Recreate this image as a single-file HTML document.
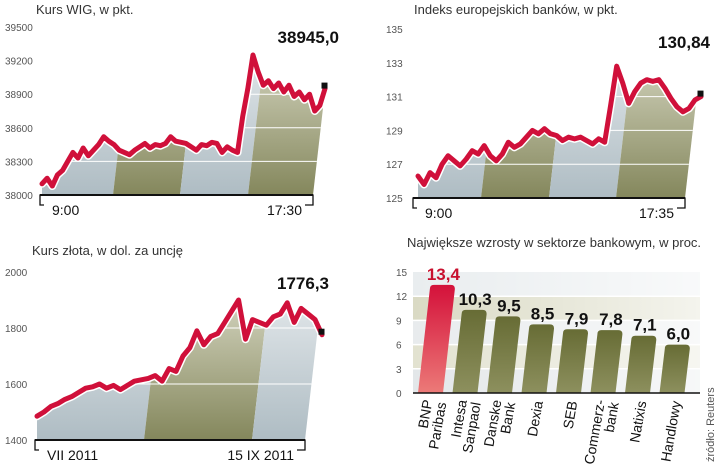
<!DOCTYPE html>
<html><head><meta charset="utf-8">
<style>
html,body{margin:0;padding:0;background:#fff;}
svg{display:block;font-family:"Liberation Sans",sans-serif;}
.ttl{font-size:13px;fill:#333;}
.yl{font-size:10px;fill:#555;}
.xl{font-size:14px;fill:#111;}
.val{font-family:"Liberation Sans Narrow","Liberation Sans",sans-serif;font-weight:bold;font-size:17px;fill:#111;}
</style></head><body>
<svg id="svg" width="720" height="468" viewBox="0 0 720 468" xmlns="http://www.w3.org/2000/svg">
<defs>
<linearGradient id="gBlue" x1="0" y1="0" x2="0" y2="1"><stop offset="0" stop-color="#eef1f3"/><stop offset="1" stop-color="#aebcc3"/></linearGradient>
<linearGradient id="gOlive" x1="0" y1="0" x2="0" y2="1"><stop offset="0" stop-color="#e6e6d6"/><stop offset="1" stop-color="#84875c"/></linearGradient>
<linearGradient id="gRed" x1="0" y1="0" x2="0" y2="1"><stop offset="0" stop-color="#d4113a"/><stop offset="1" stop-color="#ec7a78"/></linearGradient>
<linearGradient id="gGreen" x1="0" y1="0" x2="0" y2="1"><stop offset="0" stop-color="#676c35"/><stop offset="1" stop-color="#8d905e"/></linearGradient>
<linearGradient id="fadeR" x1="0" y1="0" x2="1" y2="0"><stop offset="0" stop-color="#fff" stop-opacity="0"/><stop offset="1" stop-color="#fff" stop-opacity="0.7"/></linearGradient>
</defs>
</svg>
<script>
// ---- data ----
const wigValues = [38100,38150,38080,38180,38220,38300,38380,38330,38420,38350,38400,38450,38520,38480,38450,38400,38380,38360,38400,38430,38460,38420,38450,38440,38460,38520,38480,38470,38460,38430,38400,38450,38440,38470,38460,38380,38430,38400,38380,38700,38950,39250,39100,38980,39020,38950,39000,38920,38980,38880,38920,38850,38900,38750,38800,38950];
const wigTicks = [38000,38300,38600,38900,39200,39500];
const wigXLabels = ["9:00","17:30"];
const bankValues = [126.3,125.8,126.5,126.2,127.0,127.5,127.2,126.9,127.3,127.8,127.6,128.1,127.5,127.2,127.6,128.3,128.0,128.2,128.6,129.0,128.8,129.1,128.8,128.7,128.4,128.6,128.5,128.6,128.4,128.2,128.5,128.3,130.5,132.8,131.8,130.6,131.3,131.8,132.0,131.9,132.0,131.5,130.9,130.4,130.1,130.3,130.8,131.0];
const bankTicks = [125,127,129,131,133,135];
const bankXLabels = ["9:00","17:35"];
const goldValues = [1485,1500,1520,1530,1545,1555,1570,1585,1590,1600,1585,1595,1580,1595,1610,1615,1620,1630,1610,1655,1645,1700,1730,1790,1740,1770,1780,1820,1860,1900,1760,1830,1820,1810,1840,1850,1890,1820,1870,1850,1830,1776];
const goldTicks = [1400,1600,1800,2000];
const goldXLabels = ["VII 2011","15 IX 2011"];
const barCategories = [["BNP","Paribas"],["Intesa","Sanpaol"],["Danske","Bank"],["Dexia"],["SEB"],["Commerz-","bank"],["Natixis"],["Handlowy"]];
const barValues = [13.4,10.3,9.5,8.5,7.9,7.8,7.1,6.0];
const barLabels = ["13,4","10,3","9,5","8,5","7,9","7,8","7,1","6,0"];
const barTicks = [0,3,6,9,12,15];

const NS="http://www.w3.org/2000/svg";
const svg=document.getElementById('svg');
function mk(tag,attrs,parent){const e=document.createElementNS(NS,tag);for(const k in attrs)e.setAttribute(k,attrs[k]);(parent||svg).appendChild(e);return e;}

function lineChart(o){
  const g=mk('g',{});
  
  
  const y=v=>o.yBase-(v-o.ticks[0])/(o.ticks[o.ticks.length-1]-o.ticks[0])*(o.yBase-o.yTop);
  const n=o.values.length;
  const x=i=>o.lx0+i*(o.lx1-o.lx0)/(n-1);
  const t=mk('text',{x:o.titleX,y:o.titleY,class:'ttl'},g);t.textContent=o.title;
  
  o.ticks.forEach(v=>{const e=mk('text',{x:o.ylX,y:y(v)+4,class:'yl'},g);e.textContent=v;
    });
  let pts=o.values.map((v,i)=>x(i)+','+y(v)).join(' ');
  const cid='clip'+o.name;
  const cp=mk('clipPath',{id:cid},g);
  mk('polygon',{points:o.lx0+','+o.yBase+' '+pts+' '+o.lx1+','+o.yBase},cp);
  const bands=mk('g',{'clip-path':'url(#'+cid+')'},g);
  const s=0.115;
  for(let b=0;b<o.bands.length-1;b++){
    const a=o.bands[b],c=o.bands[b+1],top=o.yTop-10,h=o.yBase-top;
    const ra=b===0?a-20:a+h*s, rc=c+h*s;
    const p=mk('polygon',{points:`${a},${o.yBase} ${c},${o.yBase} ${rc},${top} ${ra},${top}`,fill:o.bandFill[b]},bands);
    
  }
  o.ticks.slice(1,-1).forEach(v=>mk('line',{x1:o.x0,x2:o.x1+ (o.yBase-y(v))*s,y1:y(v),y2:y(v),stroke:'#fff','stroke-width':1},bands));
  const ax=mk('path',{d:`M${o.x0+4},${o.yBase+10} L${o.x0},${o.yBase+10} L${o.x0},${o.yBase} L${o.x1},${o.yBase} L${o.x1},${o.yBase+10} L${o.x1-8},${o.yBase+10}`,fill:'none',stroke:'#111','stroke-width':1.3},g);
  
  mk('line',{x1:o.x0,x2:o.x1,y1:o.yBase,y2:o.yBase,stroke:'#111','stroke-width':2},g);
  const l1=mk('text',{x:o.x0+12,y:o.yBase+20,class:'xl'},g);l1.textContent=o.xLabels[0];
  
  const l2=mk('text',{x:o.x1-11,y:o.yBase+20,class:'xl','text-anchor':'end'},g);l2.textContent=o.xLabels[1];
  
  mk('polyline',{points:pts,fill:'none',stroke:'#fff','stroke-width':8,'stroke-linejoin':'round','stroke-linecap':'round'},g);
  const ln=mk('polyline',{points:pts,fill:'none',stroke:'#d0103a','stroke-width':5,'stroke-linejoin':'round','stroke-linecap':'round'},g);
  
  const ex=x(n-1),ey=y(o.values[n-1]);
  const sq=mk('rect',{x:ex-3.5,y:ey-6,width:6,height:6,fill:'#111'},g);
  
  const v=mk('text',{x:o.valX,y:o.valY,class:'val','text-anchor':'end'},g);v.textContent=o.valText;
  
}
const B='url(#gBlue)',O='url(#gOlive)';
lineChart({name:'wig-chart',title:'Kurs WIG, w pkt.',titleX:36,titleY:14,ylX:5,ticks:wigTicks,yBase:195,yTop:27,
  x0:40,x1:313,lx0:42,lx1:325,values:wigValues,bands:[40,113,180,248,313],bandFill:[B,O,B,O],
  xLabels:wigXLabels,valText:'38945,0',valX:339,valY:43});
lineChart({name:'banks-chart',title:'Indeks europejskich banków, w pkt.',titleX:414,titleY:14,ylX:386,ticks:bankTicks,yBase:198,yTop:29,
  x0:413,x1:685,lx0:418,lx1:701,values:bankValues,bands:[413,481,549,616,685],bandFill:[B,O,B,O],
  xLabels:bankXLabels,valText:'130,84',valX:710,valY:48});
lineChart({name:'gold-chart',title:'Kurs złota, w dol. za uncję',titleX:32,titleY:255,ylX:5,ticks:goldTicks,yBase:440,yTop:272,
  x0:35,x1:305,lx0:37,lx1:322,values:goldValues,bands:[35,144,252,305],bandFill:[B,O,B],
  xLabels:goldXLabels,valText:'1776,3',valX:329,valY:289});

// ---- bar chart ----
(function(){
  const g=mk('g',{});
  
  
  const yB=393,yT=272,px0=413,px1=700;
  const y=v=>yB-v/15*(yB-yT);
  const t=mk('text',{x:407,y:247,class:'ttl'},g);t.textContent='Największe wzrosty w sektorze bankowym, w proc.';
  
  const bandCols=['#e3e7e9','#e2e2d0','#e8ebed','#dadac4','#e9edef'];
  for(let i=0;i<barTicks.length-1;i++){
    mk('rect',{x:px0,y:y(barTicks[i+1]),width:px1-px0,height:y(barTicks[i])-y(barTicks[i+1]),fill:bandCols[i]},g);
  }
  mk('rect',{x:px0,y:yT,width:px1-px0,height:yB-yT,fill:'url(#fadeR)'},g);
  barTicks.forEach(v=>{
    const e=mk('text',{x:396,y:y(v)+4,class:'yl'},g);e.textContent=v;
    
    if(v>0&&v<15)mk('line',{x1:px0,x2:px1,y1:y(v),y2:y(v),stroke:'#fff','stroke-width':1.5},g);
  });
  const step=34.5,bw=25,s=0.11;
  barValues.forEach((v,i)=>{
    const bx=418+i*step, ty=y(v), sh=(yB-ty)*s;
    const r=mk('path',{d:`M${bx},${yB} L${bx+bw},${yB} L${bx+bw+sh},${ty+4} Q${bx+bw+sh},${ty} ${bx+bw+sh-4},${ty} L${bx+sh+4},${ty} Q${bx+sh},${ty} ${bx+sh},${ty+4} Z`,fill:i===0?'url(#gRed)':'url(#gGreen)'},g);
    
    
    const vl=mk('text',{x:bx+bw/2+sh+1,y:ty-5,class:'val','text-anchor':'middle'},g);
    vl.textContent=barLabels[i];
    if(i===0)vl.setAttribute('style','fill:#c8102e');
    
    const lab=mk('text',{transform:`translate(${bx+bw/2+4},${yB+8}) rotate(-80)`,'text-anchor':'end',style:'font-size:14px;fill:#111'},g);
    
    const lines=barCategories[i];
    lines.forEach((s2,k)=>{const ts=mk('tspan',{x:0,y:(k-(lines.length-1)/2)*14+5},lab);ts.textContent=s2;});
  });
  mk('line',{x1:px0,x2:px1,y1:yB,y2:yB,stroke:'#111','stroke-width':1.5},g);
  const src=mk('text',{transform:'translate(714,462) rotate(-90)','text-anchor':'start',style:'font-size:11px;fill:#555'},g);
  src.textContent='źródło: Reuters';
  
})();
</script>
</body></html>
